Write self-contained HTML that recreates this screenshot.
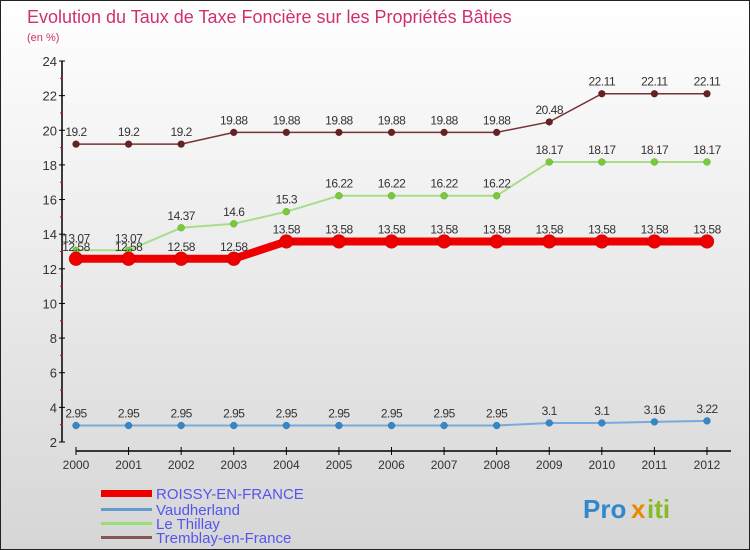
<!DOCTYPE html>
<html><head><meta charset="utf-8"><style>
body{margin:0}
#c{width:750px;height:550px;position:relative;background:linear-gradient(#ffffff,#d6d6d6);box-sizing:border-box;border:1px solid #222;font-family:"Liberation Sans",sans-serif;overflow:hidden}
</style></head><body>
<div id="c">
<svg id="s" width="750" height="550" xmlns="http://www.w3.org/2000/svg">
<text x="26" y="22" font-size="18" fill="#d03070">Evolution du Taux de Taxe Foncière sur les Propriétés Bâties</text>
<text x="26" y="40" font-size="11" fill="#d03070">(en %)</text>
<g id="axes"></g><g id="series"></g>
<g>
<rect x="100" y="489" width="51" height="7" fill="#ee0000"/>
<text x="155" y="498" font-size="15" fill="#5555ee">ROISSY-EN-FRANCE</text>
<rect x="100" y="507" width="51" height="3" fill="#6699cc"/>
<text x="155" y="514" font-size="15" fill="#5555ee">Vaudherland</text>
<rect x="100" y="521" width="51" height="3" fill="#99dd77"/>
<text x="155" y="528" font-size="15" fill="#5555ee">Le Thillay</text>
<rect x="100" y="535" width="51" height="3" fill="#885555"/>
<text x="155" y="542" font-size="15" fill="#5555ee">Tremblay-en-France</text>
</g>
<g font-size="26" font-weight="bold">
<text x="582" y="517" fill="#3388cc">Pro</text><text x="630" y="517" fill="#ee8800">x</text><text x="646" y="517" fill="#88bb22">iti</text>
</g>
</svg>
</div>
<script>
const years=[2000,2001,2002,2003,2004,2005,2006,2007,2008,2009,2010,2011,2012];
const roissy=[12.58,12.58,12.58,12.58,13.58,13.58,13.58,13.58,13.58,13.58,13.58,13.58,13.58];
const vaudherland=[2.95,2.95,2.95,2.95,2.95,2.95,2.95,2.95,2.95,3.1,3.1,3.16,3.22];
const thillay=[13.07,13.07,14.37,14.6,15.3,16.22,16.22,16.22,16.22,18.17,18.17,18.17,18.17];
const tremblay=[19.2,19.2,19.2,19.88,19.88,19.88,19.88,19.88,19.88,20.48,22.11,22.11,22.11];
const yTicks=[2,4,6,8,10,12,14,16,18,20,22,24];
const NS="http://www.w3.org/2000/svg";
const X=i=>75+i*(706-75)/(years.length-1);
const Y=v=>441-(v-2)*(441-60)/22;
function mk(p,t,a){const e=document.createElementNS(NS,t);for(const k in a)e.setAttribute(k,a[k]);p.appendChild(e);return e;}
const ax=document.getElementById('axes'),sg=document.getElementById('series');
let e=mk(ax,'line',{x1:61,y1:60,x2:61,y2:441,stroke:'#000','stroke-width':1.5});


e=mk(ax,'line',{x1:75,y1:450,x2:730,y2:450,stroke:'#000','stroke-width':1.5});


yTicks.forEach(v=>{
  mk(ax,'line',{x1:58,x2:64,y1:Y(v),y2:Y(v),stroke:'#000'});
  if(v<24)mk(ax,'line',{x1:59,x2:62,y1:Y(v+1),y2:Y(v+1),stroke:'#e00'});
  const t=mk(ax,'text',{x:56,y:Y(v)+5,'font-size':13,'text-anchor':'end',fill:'#333'});t.textContent=v;
  
  
});
years.forEach((yr,i)=>{
  mk(ax,'line',{x1:X(i),x2:X(i),y1:446,y2:454,stroke:'#000'});
  const t=mk(ax,'text',{x:X(i),y:468,'font-size':12,'text-anchor':'middle',fill:'#333'});t.textContent=yr;
  
  
});
function series(name,vals,color,w,r,dot,lab){
  const g=mk(sg,'g',{});
  
  
  mk(g,'polyline',{points:vals.map((v,i)=>X(i)+','+Y(v)).join(' '),fill:'none',stroke:color,'stroke-width':w});
  vals.forEach((v,i)=>{
    const c=mk(g,'circle',{cx:X(i),cy:Y(v),r:r,fill:dot,stroke:'rgba(0,0,0,0.25)','stroke-width':0.5});
    
    
    if(lab){const t=mk(g,'text',{x:X(i),y:Y(v)-8,'font-size':12,'text-anchor':'middle',fill:'#333','letter-spacing':-0.5});t.textContent=v;}
  });
}
series('vaudherland',vaudherland,'#77aadd',2,3.5,'#3388cc',true);
series('tremblay',tremblay,'#773333',1.5,3.5,'#662222',true);
series('le-thillay',thillay,'#aadd88',2,3.5,'#77cc33',true);
series('roissy',roissy,'#ee0000',8,7,'#ee0000',true);
</script>
</body></html>
